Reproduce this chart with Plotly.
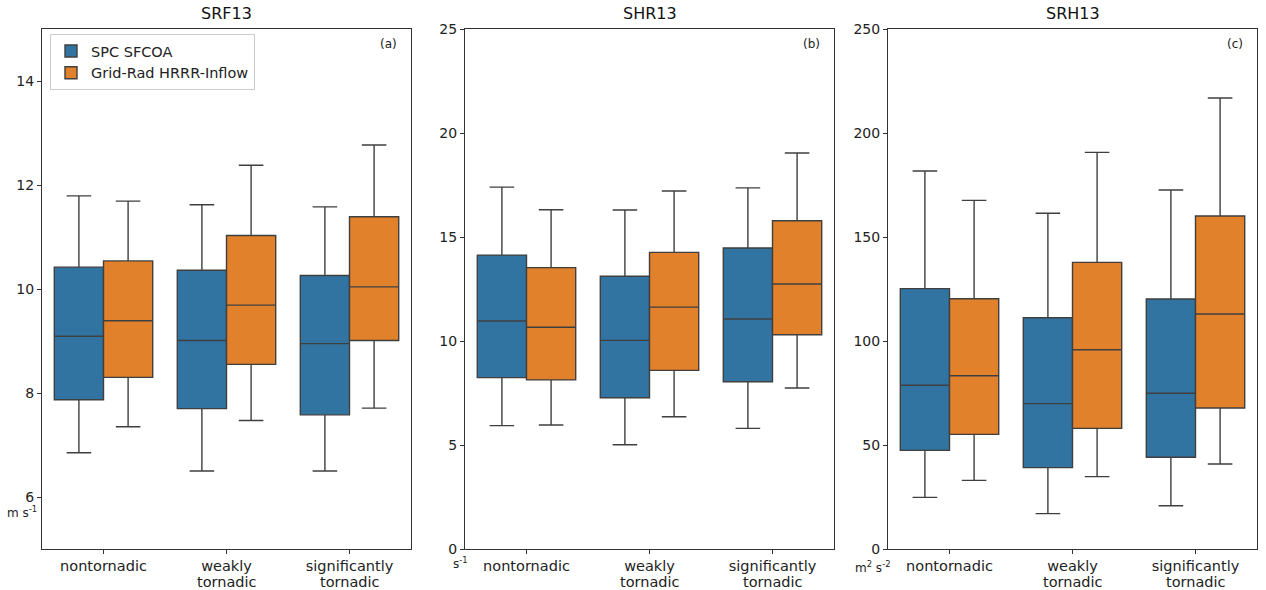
import plotly.graph_objects as go
from plotly.subplots import make_subplots

categories = ["nontornadic", "weakly tornadic", "significantly tornadic"]
cat_line1 = ["nontornadic", "weakly", "significantly"]
cat_line2 = ["", "tornadic", "tornadic"]
series_names = ["SPC SFCOA", "Grid-Rad HRRR-Inflow"]
panel_titles = ["SRF13", "SHR13", "SRH13"]
panel_letters = ["(a)", "(b)", "(c)"]

# SRF13 (m s-1)
srf_spc_low = [6.85, 6.50, 6.50]
srf_spc_q1 = [7.87, 7.70, 7.58]
srf_spc_med = [9.09, 9.01, 8.95]
srf_spc_q3 = [10.42, 10.36, 10.26]
srf_spc_high = [11.79, 11.62, 11.58]
srf_gr_low = [7.35, 7.47, 7.71]
srf_gr_q1 = [8.30, 8.55, 9.01]
srf_gr_med = [9.39, 9.69, 10.04]
srf_gr_q3 = [10.54, 11.03, 11.39]
srf_gr_high = [11.69, 12.38, 12.77]

# SHR13 (s-1)
shr_spc_low = [5.93, 5.01, 5.80]
shr_spc_q1 = [8.24, 7.27, 8.04]
shr_spc_med = [10.96, 10.03, 11.06]
shr_spc_q3 = [14.13, 13.11, 14.47]
shr_spc_high = [17.40, 16.30, 17.36]
shr_gr_low = [5.96, 6.36, 7.74]
shr_gr_q1 = [8.13, 8.59, 10.30]
shr_gr_med = [10.66, 11.63, 12.74]
shr_gr_q3 = [13.53, 14.26, 15.78]
shr_gr_high = [16.31, 17.21, 19.04]

# SRH13 (m2 s-2)
srh_spc_low = [24.8, 17.0, 20.8]
srh_spc_q1 = [47.4, 39.1, 44.1]
srh_spc_med = [78.7, 69.9, 74.9]
srh_spc_q3 = [125.2, 111.2, 120.2]
srh_spc_high = [181.7, 161.4, 172.6]
srh_gr_low = [33.0, 34.8, 40.9]
srh_gr_q1 = [55.1, 58.0, 67.8]
srh_gr_med = [83.3, 95.8, 113.0]
srh_gr_q3 = [120.3, 137.8, 160.1]
srh_gr_high = [167.6, 190.7, 216.8]

panels = [
    [(srf_spc_low, srf_spc_q1, srf_spc_med, srf_spc_q3, srf_spc_high),
     (srf_gr_low, srf_gr_q1, srf_gr_med, srf_gr_q3, srf_gr_high)],
    [(shr_spc_low, shr_spc_q1, shr_spc_med, shr_spc_q3, shr_spc_high),
     (shr_gr_low, shr_gr_q1, shr_gr_med, shr_gr_q3, shr_gr_high)],
    [(srh_spc_low, srh_spc_q1, srh_spc_med, srh_spc_q3, srh_spc_high),
     (srh_gr_low, srh_gr_q1, srh_gr_med, srh_gr_q3, srh_gr_high)],
]
y_ranges = [[5, 15], [0, 25], [0, 250]]
y_tick0 = [6, 0, 0]
y_dtick = [2, 5, 50]

colors = ["#3274a1", "#e1812c"]
edge = "#3f3f3f"

W, H = 1266, 590
ml, mr, mt, mb = 42, 9, 29, 41
pw = W - ml - mr
ph = H - mt - mb


def px_x(x):
    return (x - ml) / pw


def px_y(y):
    return 1 - (y - mt) / ph


fig = make_subplots(rows=1, cols=3, horizontal_spacing=0.0)
domains = [[px_x(42), px_x(411)], [px_x(465), px_x(834)], [px_x(888), 1.0]]

for p, data in enumerate(panels):
    for s, (low, q1, med, q3, high) in enumerate(data):
        fig.add_trace(go.Box(
            x=categories, lowerfence=low, q1=q1, median=med, q3=q3, upperfence=high,
            name=series_names[s], legendgroup=series_names[s], showlegend=(p == 0),
            fillcolor=colors[s], line=dict(color=edge, width=1.4),
            whiskerwidth=0.5, offsetgroup=str(s), boxpoints=False,
            hoverinfo="skip",
        ), row=1, col=p + 1)

axis_common = dict(showline=True, linecolor="#333333", linewidth=1, mirror=True,
                   ticks="outside", ticklen=4, tickcolor="#333333", showgrid=False,
                   zeroline=False, automargin=False)
for p in range(3):
    xa = "xaxis" if p == 0 else f"xaxis{p+1}"
    ya = "yaxis" if p == 0 else f"yaxis{p+1}"
    xref = "x" if p == 0 else f"x{p+1}"
    fig.layout[xa].update(domain=domains[p], tickmode="array", tickvals=categories, ticktext=cat_line1,
                          tickfont=dict(size=14.5, color="#222222"), **axis_common)
    fig.layout[ya].update(range=y_ranges[p], tick0=y_tick0[p], dtick=y_dtick[p],
                          tickfont=dict(size=14, color="#222222"), **axis_common)
    for c, l2 in zip(categories, cat_line2):
        if l2:
            fig.add_annotation(text=l2, x=c, xref=xref, y=px_y(582), yref="paper",
                               showarrow=False, font=dict(size=14.5, color="#222222"),
                               xanchor="center", yanchor="middle")
    cx = (domains[p][0] + domains[p][1]) / 2
    fig.add_annotation(text=panel_titles[p], x=cx, y=px_y(13), xref="paper", yref="paper",
                       showarrow=False, font=dict(size=16, color="#111111"),
                       xanchor="center", yanchor="middle")
    fig.add_annotation(text=panel_letters[p], x=domains[p][1] - 12 / pw, y=px_y(44),
                       xref="paper", yref="paper", showarrow=False,
                       font=dict(size=12, color="#222222"), xanchor="right", yanchor="middle")

units = [("m s<sup>-1</sup>", 22, 512), ("s<sup>-1</sup>", 460, 563), ("m<sup>2</sup> s<sup>-2</sup>", 872, 567)]
for txt, x, y in units:
    fig.add_annotation(text=txt, x=px_x(x), y=px_y(y), xref="paper", yref="paper",
                       showarrow=False, font=dict(size=12, color="#222222"),
                       xanchor="center", yanchor="middle")

fig.update_layout(
    width=W, height=H,
    margin=dict(l=ml, r=mr, t=mt, b=mb, autoexpand=False),
    boxmode="group", boxgap=0.2, boxgroupgap=0.0,
    plot_bgcolor="white", paper_bgcolor="white",
    font=dict(family="DejaVu Sans", size=13, color="#222222"),
    legend=dict(x=px_x(50), y=px_y(34), xanchor="left", yanchor="top",
                bgcolor="rgba(255,255,255,0.9)", bordercolor="#cccccc", borderwidth=1,
                font=dict(size=14.5), tracegroupgap=0),
)

fig.write_html("out.html", config={"displayModeBar": False},
               post_script="document.body.style.margin='0';document.body.style.overflow='hidden';")
